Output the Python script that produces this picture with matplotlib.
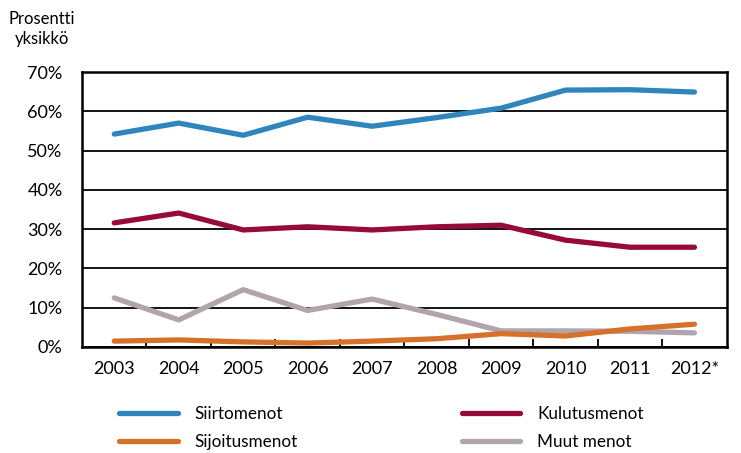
import matplotlib.pyplot as plt
from matplotlib.ticker import FixedLocator

plt.rcParams['font.family'] = ['Lato', 'DejaVu Sans']

years = ['2003', '2004', '2005', '2006', '2007', '2008', '2009', '2010', '2011', '2012*']
siirtomenot = [54.2, 57.0, 53.9, 58.5, 56.2, 58.4, 60.8, 65.4, 65.5, 64.9]
kulutusmenot = [31.6, 34.1, 29.8, 30.6, 29.8, 30.6, 31.0, 27.2, 25.4, 25.4]
sijoitusmenot = [1.5, 1.8, 1.3, 1.0, 1.5, 2.1, 3.4, 2.8, 4.6, 5.8]
muut_menot = [12.5, 6.9, 14.6, 9.3, 12.2, 8.3, 4.1, 4.1, 4.0, 3.6]

fig = plt.figure(figsize=(7.41, 4.53), dpi=100)
ax = fig.add_axes([0.1107, 0.234, 0.870, 0.607])

x = list(range(len(years)))
lw = 3.8
l1, = ax.plot(x, siirtomenot, color='#2E86BC', lw=lw, solid_capstyle='round', label='Siirtomenot')
l2, = ax.plot(x, kulutusmenot, color='#970A3C', lw=lw, solid_capstyle='round', label='Kulutusmenot')
l4, = ax.plot(x, muut_menot, color='#B1A5AD', lw=lw, solid_capstyle='round', label='Muut menot')
l3, = ax.plot(x, sijoitusmenot, color='#D5712B', lw=lw, solid_capstyle='round', label='Sijoitusmenot')

ax.set_xlim(-0.5, len(years) - 0.5)
ax.set_ylim(0, 70)
ax.set_yticks(range(0, 71, 10))
ax.set_yticklabels([f'{v}%' for v in range(0, 71, 10)], fontsize=13)
ax.yaxis.grid(True, color='black', lw=1.3)
ax.set_axisbelow(True)
ax.tick_params(axis='y', length=0, pad=14)

ax.set_xticks(x)
ax.set_xticklabels(years, fontsize=13)
ax.tick_params(axis='x', which='major', length=0, pad=10)
ax.xaxis.set_minor_locator(FixedLocator([i + 0.5 for i in range(len(years) - 1)]))
ax.tick_params(axis='x', which='minor', direction='in', length=6, width=1.3)

for s in ax.spines.values():
    s.set_linewidth(1.8)

fig.text(0.057, 0.975, 'Prosentti\nyksikkö', fontsize=12, ha='center', va='top', linespacing=1.3)

fig.legend([l1, l3, l2, l4], ['Siirtomenot', 'Sijoitusmenot', 'Kulutusmenot', 'Muut menot'],
           ncol=2, loc='upper left', bbox_to_anchor=(0.152, 0.118), frameon=False,
           fontsize=12.3, handlelength=3.4, handletextpad=1.0, columnspacing=9.6,
           labelspacing=0.7, borderaxespad=0)

fig.savefig('out.png', dpi=100)
